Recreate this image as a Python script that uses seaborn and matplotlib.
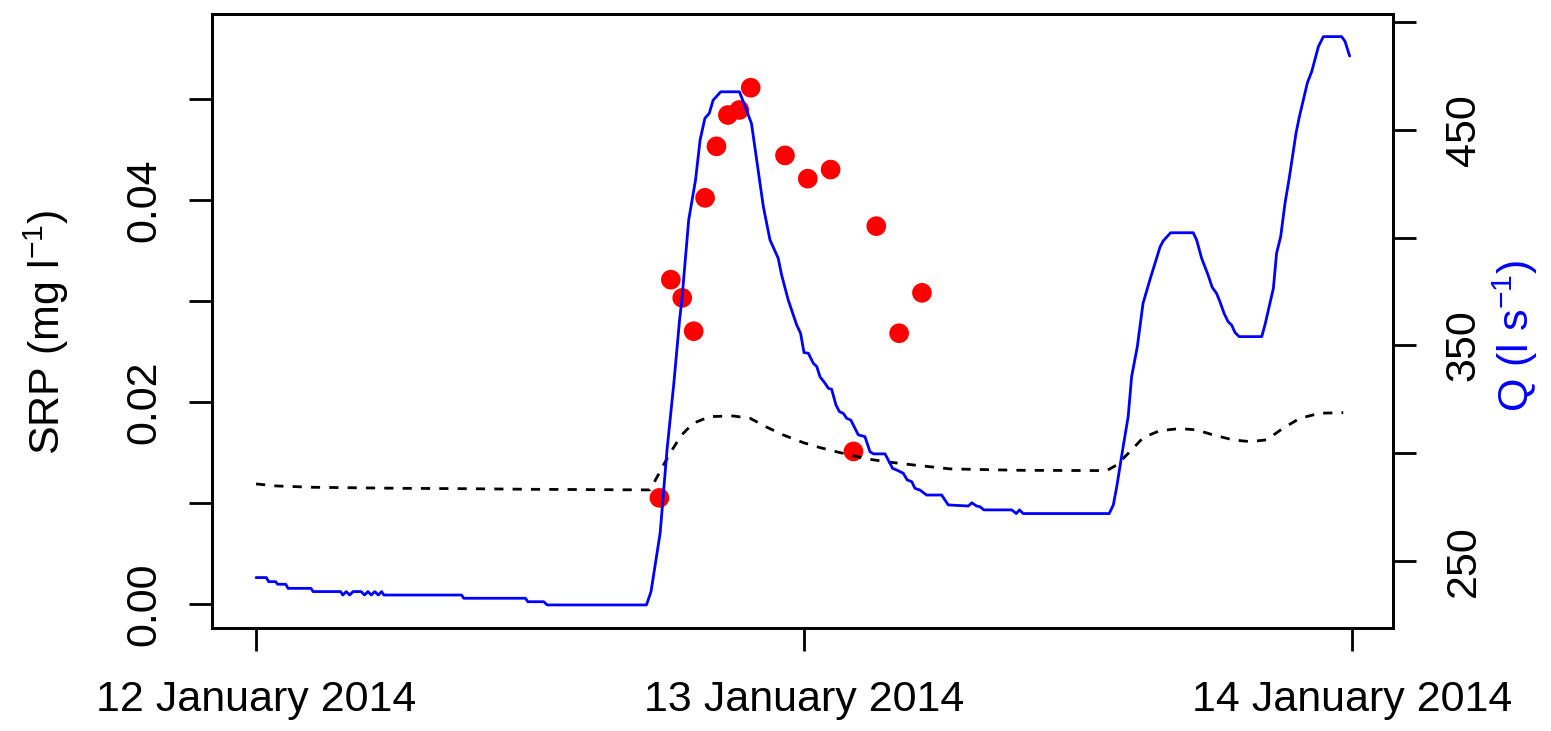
import numpy as np
import pandas as pd
import seaborn as sns
import matplotlib.pyplot as plt

sns.set_style("ticks")
plt.rcParams['font.family'] = ['Liberation Sans', 'DejaVu Sans']
plt.rcParams['mathtext.fontset'] = 'custom'
plt.rcParams['mathtext.rm'] = 'Liberation Sans'
plt.rcParams['mathtext.default'] = 'regular'
plt.rcParams['text.color'] = 'black'

start = pd.Timestamp('2014-01-12 00:00')

# discharge Q (l/s), hours after 12 Jan 2014 00:00
q_hours = [0.0, 0.45, 0.55, 0.85, 0.95, 1.3, 1.4, 2.4, 2.5, 3.7, 3.8, 3.95, 4.1, 4.25,
           4.6, 4.75, 4.9, 5.05, 5.2, 5.35, 5.5, 5.6, 9.0, 9.1, 11.8, 11.9, 12.6, 12.75,
           17.1, 17.3, 17.7, 18.0, 18.3, 18.55, 18.65, 18.95, 19.25, 19.45, 19.66, 19.85,
           20.02, 20.35, 21.17, 21.37, 21.7, 21.93, 22.22, 22.51, 22.87, 23.02, 23.31,
           23.68, 23.85, 24.0, 24.19, 24.41, 24.56, 24.7, 24.92, 25.07, 25.21, 25.4, 25.55,
           25.72, 25.87, 26.05, 26.38, 26.67, 26.89, 27.04, 27.55, 27.88, 28.06, 28.35,
           28.52, 28.72, 28.86, 29.08, 29.37, 30.03, 30.32, 31.2, 31.35, 31.56, 31.7, 31.88,
           33.1, 33.3, 33.44, 33.6, 37.37, 37.55, 37.7, 37.98, 38.2, 38.35, 38.6, 38.85,
           39.15, 39.42, 39.6, 39.74, 40.06, 41.05, 41.2, 41.42, 41.7, 41.88, 42.07, 42.22,
           42.4, 42.58, 42.73, 42.88, 43.06, 44.05, 44.19, 44.41, 44.56, 44.7, 44.88, 45.07,
           45.26, 45.55, 45.7, 45.87, 46.05, 46.24, 46.53, 46.75, 47.55, 47.7, 47.9]
q_vals = [242.3, 242.3, 240.4, 240.4, 239.2, 239.2, 237.3, 237.3, 235.8, 235.8, 234.2, 235.8,
          234.2, 235.8, 235.8, 234.2, 235.8, 234.2, 235.8, 234.2, 235.8, 234.2, 234.2, 232.7,
          232.7, 231.1, 231.1, 229.6, 229.6, 235.8, 263.0, 301.5, 332.5, 361.8, 371.0, 408.2,
          426.8, 445.4, 455.4, 457.7, 463.8, 467.7, 467.7, 462.4, 453.0, 436.0, 414.4, 399.0,
          390.5, 382.7, 371.1, 359.5, 355.7, 346.7, 346.4, 341.7, 340.2, 335.5, 332.5, 330.1,
          329.7, 322.4, 319.3, 318.5, 316.2, 315.4, 308.5, 307.7, 300.7, 299.7, 299.7, 293.0,
          292.2, 290.7, 287.6, 286.8, 283.7, 282.9, 280.6, 280.6, 276.0, 275.5, 277.0, 275.5,
          275.2, 273.7, 273.7, 272.0, 273.7, 272.0, 272.0, 276.0, 284.5, 303.0, 317.0, 335.5,
          349.4, 369.5, 380.4, 389.7, 395.8, 398.6, 402.3, 402.3, 398.9, 390.4, 382.7, 377.0,
          374.2, 370.3, 364.9, 361.0, 359.5, 356.0, 354.1, 354.1, 359.5, 369.5, 376.5, 392.8,
          400.5, 416.0, 428.0, 448.4, 456.2, 463.8, 471.9, 477.1, 488.6, 493.3, 493.3, 491.1,
          484.3]

# fitted SRP (dashed line)
fit_hours = [0.0, 0.9, 2.5, 6.3, 9.2, 12.1, 17.25, 17.3, 17.77, 18.13, 18.64, 19.15, 19.88,
             20.9, 21.64, 22.37, 23.09, 23.97, 24.7, 25.58, 26.75, 27.77, 28.79, 30.4, 32.58,
             33.6, 37.26, 37.7, 38.28, 38.86, 39.59, 40.47, 41.2, 41.93, 42.8, 43.53, 44.26,
             44.99, 45.72, 46.6, 47.62]
fit_srp = [0.01188, 0.01168, 0.01155, 0.01145, 0.01141, 0.01135, 0.01129, 0.01145, 0.01344,
           0.01492, 0.01673, 0.01789, 0.01855, 0.01861, 0.01838, 0.01750, 0.01673, 0.01597,
           0.01548, 0.01498, 0.01436, 0.01403, 0.01376, 0.01337, 0.01327, 0.01323, 0.01320,
           0.01376, 0.01508, 0.01647, 0.01716, 0.01736, 0.01723, 0.01673, 0.01624, 0.01607,
           0.01624, 0.01740, 0.01838, 0.01888, 0.01894]

# SRP samples (mg/l)
srp_hours = [17.667, 18.167, 18.667, 19.167, 19.667, 20.167, 20.667, 21.167, 21.667,
             23.167, 24.167, 25.167, 26.167, 27.167, 28.167, 29.167]
srp_vals = [0.0105, 0.0321, 0.0303, 0.0270, 0.0402, 0.0453, 0.0484, 0.0489, 0.0511,
            0.0444, 0.0421, 0.0430, 0.0151, 0.0374, 0.0268, 0.0308]

q_df = pd.DataFrame({'time': start + pd.to_timedelta(q_hours, unit='h'), 'Q': q_vals})
fit_df = pd.DataFrame({'time': start + pd.to_timedelta(fit_hours, unit='h'), 'SRP': fit_srp})
srp_df = pd.DataFrame({'time': start + pd.to_timedelta(srp_hours, unit='h'), 'SRP': srp_vals})

fig = plt.figure(figsize=(15.51, 7.31), dpi=100)
ax = fig.add_axes([212 / 1551, 103 / 731, 1181 / 1551, 614 / 731])

sns.scatterplot(data=srp_df, x='time', y='SRP', ax=ax, color='#FF0000', s=200,
                edgecolor='none', zorder=2)
sns.lineplot(data=fit_df, x='time', y='SRP', ax=ax, color='black', linewidth=2.0,
             zorder=3).lines[-1].set_dashes((3.3, 3.3))

ax2 = ax.twinx()
sns.lineplot(data=q_df, x='time', y='Q', ax=ax2, color='#0000FF', linewidth=2.0)

ax.set_xlim(start + pd.Timedelta(hours=-1.93), start + pd.Timedelta(hours=49.8))
ax.set_ylim(-0.00238, 0.0584)
ax2.set_ylim(218.9, 503.8)

days = [start, start + pd.Timedelta(days=1), start + pd.Timedelta(days=2)]
ax.set_xticks(days)
ax.set_xticklabels(['12 January 2014', '13 January 2014', '14 January 2014'])

ax.set_yticks([0.0, 0.01, 0.02, 0.03, 0.04, 0.05])
ax.set_yticklabels(['0.00', '', '0.02', '', '0.04', ''])
ax2.set_yticks([250, 300, 350, 400, 450, 500])
ax2.set_yticklabels(['250', '', '350', '', '450', ''])

ax.set_xlabel('')
ax.set_ylabel('')
ax2.set_xlabel('')
ax2.set_ylabel('')

for a in (ax, ax2):
    for sp in a.spines.values():
        sp.set_visible(True)
        sp.set_linewidth(2.0)
        sp.set_color('black')
    a.tick_params(direction='out', length=16.5, width=2.0, labelsize=31, colors='black')

ax.tick_params(axis='y', labelrotation=90, pad=18)
ax.tick_params(axis='x', pad=21)
ax2.tick_params(axis='y', labelrotation=90, pad=20)
plt.setp(ax.get_yticklabels(), va='center')
plt.setp(ax2.get_yticklabels(), va='center')

fig.text(46 / 1551, 1 - 332 / 731, 'SRP (mg l$^{-1}$)', rotation=90, fontsize=31,
         ha='center', va='center', color='black')
fig.text(1515 / 1551, 1 - 336 / 731, 'Q (l s$^{-1}$)', rotation=90, fontsize=31,
         ha='center', va='center', color='#0000FF')

plt.savefig('out.png', dpi=100)
